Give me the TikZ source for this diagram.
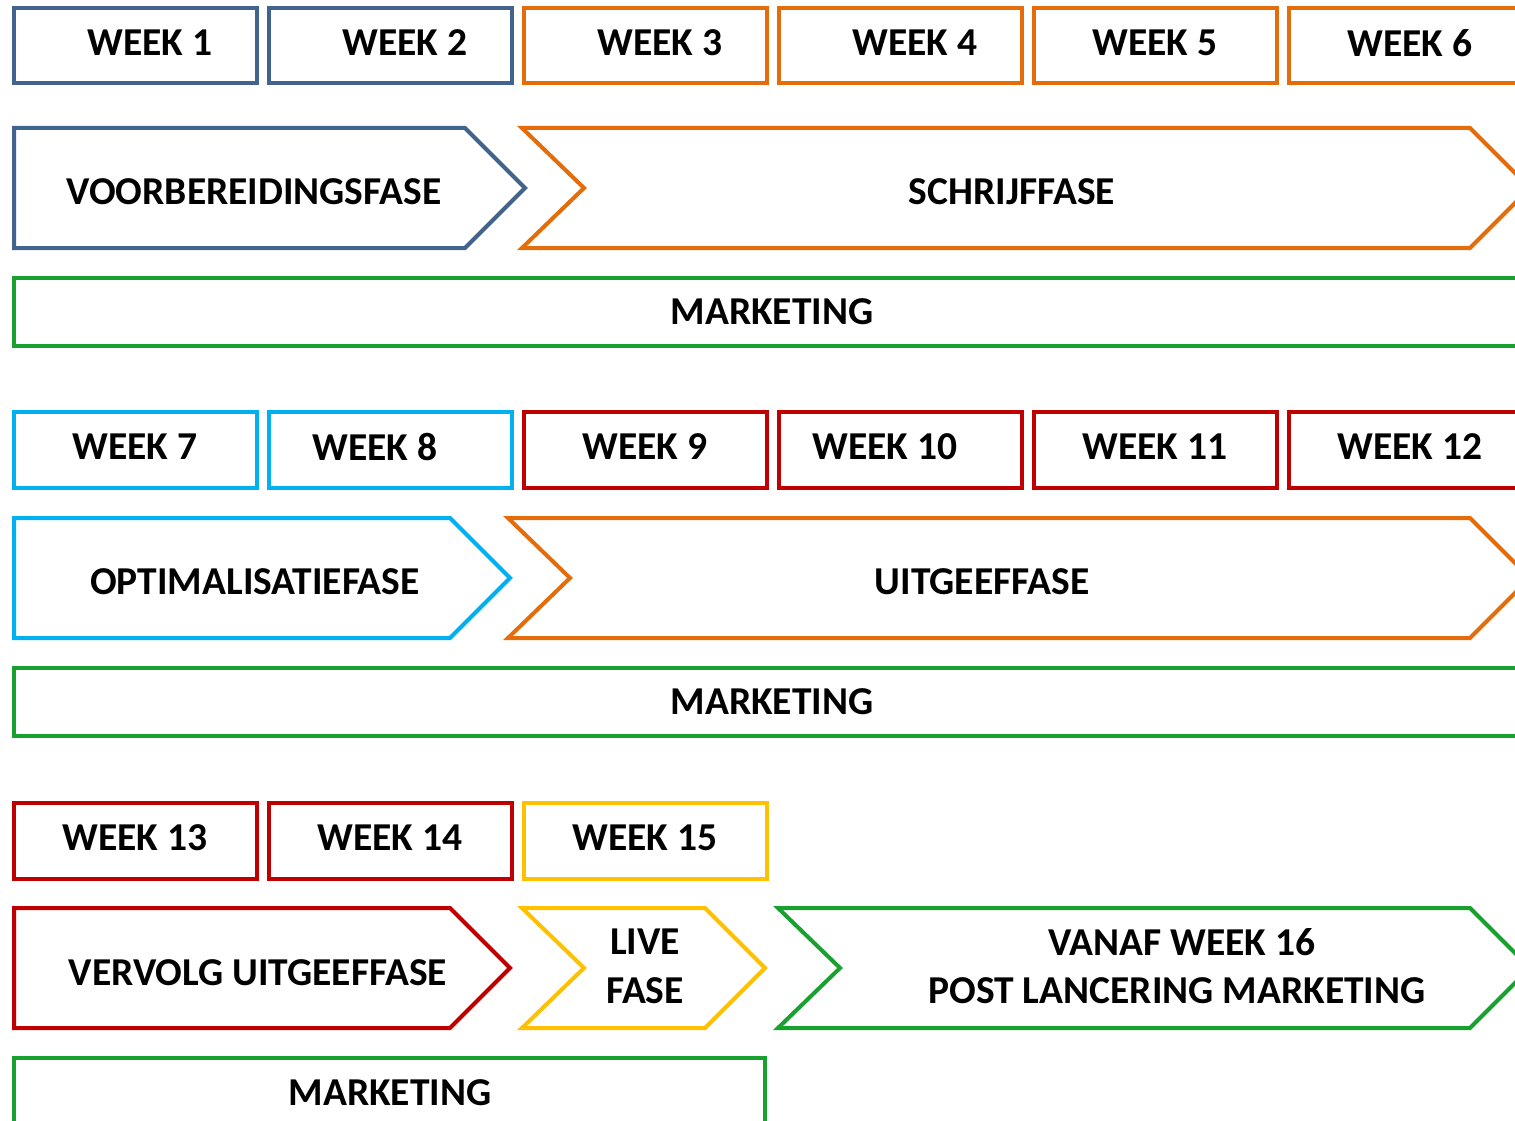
\documentclass[tikz,border=0pt]{standalone}
\usepackage{fontspec}
\setmainfont{Carlito}
\definecolor{cblue}{HTML}{41648F}
\definecolor{corange}{HTML}{E46C0A}
\definecolor{cgreen}{HTML}{18A12F}
\definecolor{ccyan}{HTML}{00B0F0}
\definecolor{cred}{HTML}{C00000}
\definecolor{cyellow}{HTML}{FFC000}
\tikzset{
  shp/.style={line width=4pt, line join=miter},
  lbl/.style={font=\fontsize{39.5}{48}\selectfont\bfseries, text=black, inner sep=0pt, anchor=center, align=center},
}
\begin{document}
\begin{tikzpicture}[x=1pt,y=-1pt]
\useasboundingbox (0,0) rectangle (1515,1121);
\clip (0,0) rectangle (1515,1121);
\fill[white] (0,0) rectangle (1515,1121);
% ---------- Row 1 ----------
\draw[shp,cblue] (14,8) rectangle (257,83);
\draw[shp,cblue] (269,8) rectangle (512,83);
\draw[shp,corange] (524,8) rectangle (767,83);
\draw[shp,corange] (779,8) rectangle (1022,83);
\draw[shp,corange] (1034,8) rectangle (1277,83);
\draw[shp,corange] (1289,8) rectangle (1532,83);
\node[lbl] (w1) at (150,43) {WEEK 1};
\node[lbl] (w2) at (405,43) {WEEK 2};
\node[lbl] (w3) at (660,43) {WEEK 3};
\node[lbl] (w4) at (915,43) {WEEK 4};
\node[lbl] (w5) at (1155,43) {WEEK 5};
\node[lbl] (w6) at (1410,43) {WEEK 6};
\draw[shp,cblue] (14,128) -- (465,128) -- (525,188) -- (465,248) -- (14,248) -- cycle;
\node[lbl] (p1) at (254,192) {VOORBEREIDINGSFASE};
\draw[shp,corange] (522,128) -- (1470,128) -- (1530,188) -- (1470,248) -- (522,248) -- (584,188) -- cycle;
\node[lbl] (p2) at (1012,192) {SCHRIJFFASE};
\draw[shp,cgreen] (14,278) rectangle (1535,346);
\node[lbl] (m1) at (772,312) {MARKETING};
% ---------- Row 2 ----------
\draw[shp,ccyan] (14,412) rectangle (257,488);
\draw[shp,ccyan] (269,412) rectangle (512,488);
\draw[shp,cred] (524,412) rectangle (767,488);
\draw[shp,cred] (779,412) rectangle (1022,488);
\draw[shp,cred] (1034,412) rectangle (1277,488);
\draw[shp,cred] (1289,412) rectangle (1532,488);
\node[lbl] (w7) at (135,447) {WEEK 7};
\node[lbl] (w8) at (375,447) {WEEK 8};
\node[lbl] (w9) at (645,447) {WEEK 9};
\node[lbl] (w10) at (885,447) {WEEK 10};
\node[lbl] (w11) at (1155,447) {WEEK 11};
\node[lbl] (w12) at (1410,447) {WEEK 12};
\draw[shp,ccyan] (14,518) -- (450,518) -- (510,578) -- (450,638) -- (14,638) -- cycle;
\node[lbl] (p3) at (255,582) {OPTIMALISATIEFASE};
\draw[shp,corange] (508,518) -- (1470,518) -- (1530,578) -- (1470,638) -- (508,638) -- (570,578) -- cycle;
\node[lbl] (p4) at (982,582) {UITGEEFFASE};
\draw[shp,cgreen] (14,668) rectangle (1535,736);
\node[lbl] (m2) at (772,702) {MARKETING};
% ---------- Row 3 ----------
\draw[shp,cred] (14,803) rectangle (257,879);
\draw[shp,cred] (269,803) rectangle (512,879);
\draw[shp,cyellow] (524,803) rectangle (767,879);
\node[lbl] (w13) at (135,838) {WEEK 13};
\node[lbl] (w14) at (390,838) {WEEK 14};
\node[lbl] (w15) at (645,838) {WEEK 15};
\draw[shp,cred] (14,908) -- (450,908) -- (510,968) -- (450,1028) -- (14,1028) -- cycle;
\node[lbl] (p5) at (258,973) {VERVOLG UITGEEFFASE};
\draw[shp,cyellow] (522,908) -- (705,908) -- (765,968) -- (705,1028) -- (522,1028) -- (584,968) -- cycle;
\node[lbl] (p6a) at (645,942) {LIVE};
\node[lbl] (p6b) at (645,991) {FASE};
\draw[shp,cgreen] (778,908) -- (1470,908) -- (1530,968) -- (1470,1028) -- (778,1028) -- (840,968) -- cycle;
\node[lbl] (p7a) at (1182,942) {VANAF WEEK 16};
\node[lbl] (p7b) at (1177,991) {POST LANCERING MARKETING};
\draw[shp,cgreen] (14,1140) -- (14,1058) -- (765,1058) -- (765,1140);
\node[lbl] (m3) at (390,1093) {MARKETING};
\end{tikzpicture}
\end{document}
